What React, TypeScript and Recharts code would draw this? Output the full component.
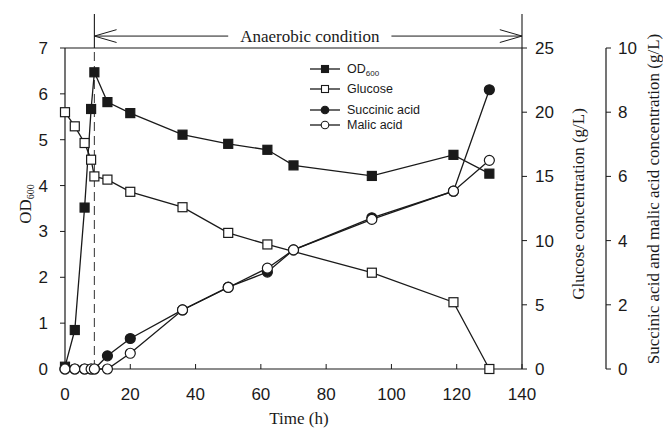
import React from 'react';
import { ComposedChart, Line, XAxis, YAxis, ReferenceLine, ReferenceDot, Legend, Label } from 'recharts';

// ---- data ----
const timeH = [0, 3, 6, 8, 9, 13, 20, 36, 50, 62, 70, 94, 119, 130];
const od600 = [0.05, 0.85, 3.52, 5.67, 6.47, 5.82, 5.58, 5.11, 4.91, 4.78, 4.44, 4.21, 4.67, 4.26];
const glucose = [20.0, 18.9, 17.6, 16.3, 15.0, 14.75, 13.8, 12.6, 10.6, 9.7, null, 7.5, 5.2, 0];
const succinic = [0, 0, 0, 0, 0, 0.41, 0.95, 1.84, 2.55, 3.02, 3.71, 4.71, 5.54, 8.7];
const malic = [0, 0, 0, 0, 0, 0, 0.49, 1.84, 2.54, 3.14, 3.71, 4.66, 5.54, 6.5];

const xTicks = [0, 20, 40, 60, 80, 100, 120, 140];
const odTicks = [0, 1, 2, 3, 4, 5, 6, 7];
const gluTicks = [0, 5, 10, 15, 20, 25];
const acidTicks = [0, 2, 4, 6, 8, 10];

const seriesNames = ['OD', 'Glucose', 'Succinic acid', 'Malic acid'];
const anaerobicStart = 9;
const anaerobicEnd = 140;
const anaerobicLabel = 'Anaerobic condition';
const arrowLevel = 7.26;
const arrowTop = 7.74;
const arrowGapFrom = 50;
const arrowGapTo = 100;
const labelAt = 75;

const data = timeH.map((t, i) => ({
  time: t,
  od: od600[i],
  glucose: glucose[i],
  succinic: succinic[i],
  malic: malic[i],
}));

const INK = '#1a1a1a';
const SANS = '"Liberation Sans", Arial, sans-serif';
const SERIF = '"Liberation Serif", "Times New Roman", serif';

const GLU_ID = 'r1glu';
const ACID_ID = 'r2acid';

const makeDot = (shape: 'square' | 'circle', filled: boolean) => (props: any) => {
  const { cx, cy, index } = props;
  if (cx == null || cy == null || Number.isNaN(cy)) return <g key={`e${index}`} />;
  const fill = filled ? INK : '#ffffff';
  if (shape === 'square') {
    return <rect key={`s${index}`} x={cx - 4.5} y={cy - 4.5} width={9} height={9} fill={fill} stroke={INK} strokeWidth={1.2} />;
  }
  return <circle key={`c${index}`} cx={cx} cy={cy} r={5} fill={fill} stroke={INK} strokeWidth={1.2} />;
};

const axisTitle = (text: string, sub: string | null, dx: number, dy: number, rotate: boolean) => (props: any) => {
  const vb = props.viewBox || {};
  const cx = vb.x + vb.width / 2 + dx;
  const cy = vb.y + vb.height / 2 + dy;
  return (
    <text
      x={cx}
      y={cy}
      transform={rotate ? `rotate(-90 ${cx} ${cy})` : undefined}
      textAnchor="middle"
      dominantBaseline="central"
      fontFamily={SERIF}
      fontSize={17}
      fill={INK}
    >
      {text}
      {sub ? (
        <tspan dy={5} fontSize={10}>
          {sub}
        </tspan>
      ) : null}
    </text>
  );
};

const legendRows = [
  { name: seriesNames[0], sub: '600', shape: 'square', filled: true, y: 11 },
  { name: seriesNames[1], sub: null, shape: 'square', filled: false, y: 31 },
  { name: seriesNames[2], sub: null, shape: 'circle', filled: true, y: 52 },
  { name: seriesNames[3], sub: null, shape: 'circle', filled: false, y: 67 },
];

const renderLegend = () => (
  <svg width={150} height={80} style={{ display: 'block' }}>
    {legendRows.map((r) => (
      <g key={r.name}>
        <line x1={2} x2={32} y1={r.y} y2={r.y} stroke={INK} strokeWidth={1.3} />
        {r.shape === 'square' ? (
          <rect x={13.5} y={r.y - 3.5} width={7} height={7} fill={r.filled ? INK : '#fff'} stroke={INK} strokeWidth={1.1} />
        ) : (
          <circle cx={17} cy={r.y} r={3.8} fill={r.filled ? INK : '#fff'} stroke={INK} strokeWidth={1.1} />
        )}
        <text x={39} y={r.y} dominantBaseline="central" fontFamily={SANS} fontSize={12.5} fill={INK}>
          {r.name}
          {r.sub ? (
            <tspan dy={4} fontSize={8}>
              {r.sub}
            </tspan>
          ) : null}
        </text>
      </g>
    ))}
  </svg>
);

const tickStyle = { fontFamily: SANS, fontSize: 17, fill: INK };

export default function App() {
  return (
    <div style={{ position: 'absolute', left: 0, top: 0, background: '#fff' }}>
      <ComposedChart
        width={663}
        height={434}
        data={data}
        margin={{ top: 48, right: 0, bottom: 0, left: 0 }}
      >
        <XAxis
          dataKey="time"
          type="number"
          domain={[0, 140]}
          ticks={xTicks}
          interval={0}
          height={65}
          stroke={INK}
          tick={tickStyle}
          tickSize={-5}
          tickMargin={24}
          axisLine={{ stroke: INK, strokeWidth: 1.2 }}
          tickLine={{ stroke: INK }}
        >
          <Label content={axisTitle('Time (h)', null, 5.5, 16.5, false)} />
        </XAxis>
        <YAxis
          yAxisId="od"
          orientation="left"
          domain={[0, 7]}
          ticks={odTicks}
          interval={0}
          width={65}
          tick={tickStyle}
          tickSize={5}
          tickMargin={12}
          axisLine={{ stroke: INK, strokeWidth: 1.2 }}
          tickLine={{ stroke: INK }}
        >
          <Label content={axisTitle('OD', '600', -7.5, -4.5, true)} />
        </YAxis>
        <YAxis
          yAxisId={GLU_ID}
          orientation="right"
          domain={[0, 25]}
          ticks={gluTicks}
          interval={0}
          width={84}
          tick={tickStyle}
          tickSize={5}
          tickMargin={8}
          axisLine={{ stroke: INK, strokeWidth: 1.2 }}
          tickLine={{ stroke: INK }}
        >
          <Label content={axisTitle('Glucose concentration (g/L)', null, 14, -4.5, true)} />
        </YAxis>
        <YAxis
          yAxisId={ACID_ID}
          orientation="right"
          domain={[0, 10]}
          ticks={acidTicks}
          interval={0}
          width={57}
          tick={tickStyle}
          tickSize={5}
          tickMargin={7}
          axisLine={{ stroke: INK, strokeWidth: 1.2 }}
          tickLine={{ stroke: INK }}
        >
          <Label content={axisTitle('Succinic acid and malic acid concentration (g/L)', null, 18.5, -9.5, true)} />
        </YAxis>

        {/* plot frame top */}
        <ReferenceLine yAxisId="od" y={7} stroke={INK} strokeWidth={1.2} ifOverflow="visible" />
        {/* anaerobic switch */}
        <ReferenceLine yAxisId="od" x={anaerobicStart} stroke="#444" strokeWidth={1.1} strokeDasharray="9 5" />
        <ReferenceLine yAxisId="od" ifOverflow="visible" stroke={INK} strokeWidth={1.1}
          segment={[{ x: anaerobicStart, y: 7 }, { x: anaerobicStart, y: arrowTop }]} />
        <ReferenceLine yAxisId="od" ifOverflow="visible" stroke={INK} strokeWidth={1.1}
          segment={[{ x: anaerobicEnd, y: 7 }, { x: anaerobicEnd, y: arrowTop }]} />
        <ReferenceLine yAxisId="od" ifOverflow="visible" stroke={INK} strokeWidth={1}
          segment={[{ x: anaerobicStart, y: arrowLevel }, { x: arrowGapFrom, y: arrowLevel }]} />
        <ReferenceLine yAxisId="od" ifOverflow="visible" stroke={INK} strokeWidth={1}
          segment={[{ x: arrowGapTo, y: arrowLevel }, { x: anaerobicEnd, y: arrowLevel }]} />
        <ReferenceLine yAxisId="od" ifOverflow="visible" stroke={INK} strokeWidth={1}
          segment={[{ x: anaerobicStart, y: arrowLevel }, { x: anaerobicStart + 6.8, y: arrowLevel + 0.14 }]} />
        <ReferenceLine yAxisId="od" ifOverflow="visible" stroke={INK} strokeWidth={1}
          segment={[{ x: anaerobicStart, y: arrowLevel }, { x: anaerobicStart + 6.8, y: arrowLevel - 0.14 }]} />
        <ReferenceLine yAxisId="od" ifOverflow="visible" stroke={INK} strokeWidth={1}
          segment={[{ x: anaerobicEnd, y: arrowLevel }, { x: anaerobicEnd - 6.8, y: arrowLevel + 0.14 }]} />
        <ReferenceLine yAxisId="od" ifOverflow="visible" stroke={INK} strokeWidth={1}
          segment={[{ x: anaerobicEnd, y: arrowLevel }, { x: anaerobicEnd - 6.8, y: arrowLevel - 0.14 }]} />
        <ReferenceDot
          yAxisId="od"
          x={labelAt}
          y={arrowLevel}
          r={0}
          fill="none"
          stroke="none"
          ifOverflow="visible"
          label={{ value: anaerobicLabel, position: 'center', fontFamily: SERIF, fontSize: 17, fill: INK }}
        />

        <Line yAxisId="od" dataKey="od" name={seriesNames[0]} stroke={INK} strokeWidth={1.3}
          dot={makeDot('square', true)} activeDot={false} isAnimationActive={false} />
        <Line yAxisId={GLU_ID} dataKey="glucose" name={seriesNames[1]} stroke={INK} strokeWidth={1.3} connectNulls
          dot={makeDot('square', false)} activeDot={false} isAnimationActive={false} />
        <Line yAxisId={ACID_ID} dataKey="succinic" name={seriesNames[2]} stroke={INK} strokeWidth={1.3}
          dot={makeDot('circle', true)} activeDot={false} isAnimationActive={false} />
        <Line yAxisId={ACID_ID} dataKey="malic" name={seriesNames[3]} stroke={INK} strokeWidth={1.3}
          dot={makeDot('circle', false)} activeDot={false} isAnimationActive={false} />

        <Legend
          layout="vertical"
          align="center"
          verticalAlign="middle"
          content={renderLegend}
          wrapperStyle={{ position: 'absolute', left: 308, top: 58, width: 150, height: 80 }}
        />
      </ComposedChart>
    </div>
  );
}
